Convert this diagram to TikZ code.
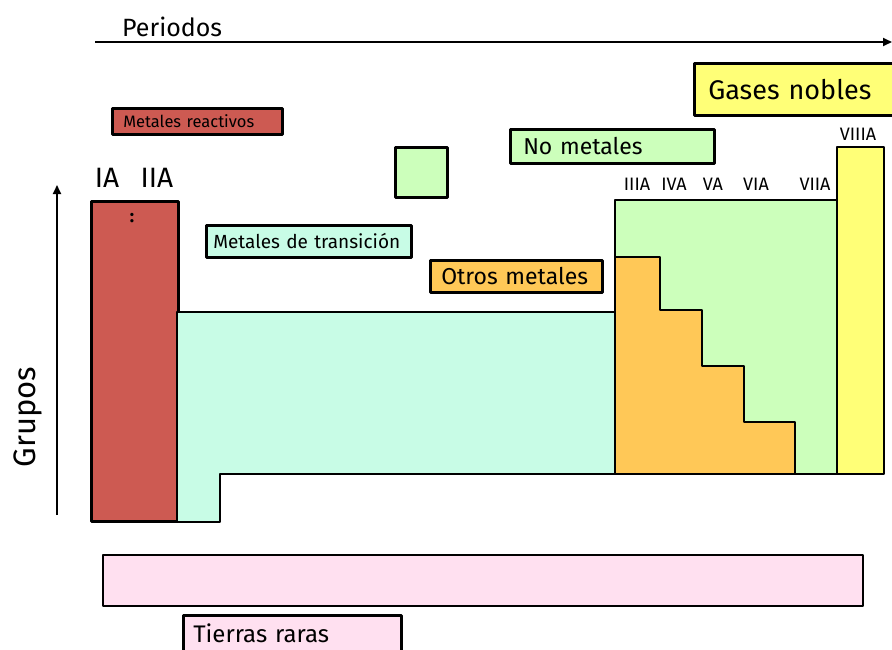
\documentclass[tikz,border=0pt]{standalone}
\usepackage{fontspec}
\setmainfont{Fira Sans}
\usetikzlibrary{arrows.meta}
\definecolor{reactred}{RGB}{205,90,82}
\definecolor{transcyan}{RGB}{200,252,230}
\definecolor{nonmetal}{RGB}{204,255,187}
\definecolor{othermetal}{RGB}{255,200,87}
\definecolor{noblegas}{RGB}{255,255,119}
\definecolor{rareearth}{RGB}{255,224,240}
\begin{document}
\begin{tikzpicture}[x=1pt,y=-1pt,
  outline/.style={draw=black, line width=2.5pt, line join=round},
  keybox/.style={outline, rectangle, inner ysep=0pt, align=left, anchor=north west},
  grouplabel/.style={font=\fontsize{18}{18}\selectfont, inner sep=0pt},
  axis/.style={line width=1.8pt, -{Triangle[length=9pt,width=8pt]}}]
\useasboundingbox (0,0) rectangle (892,649);
\clip (0,0) rectangle (892,649);

% axes
\coordinate (pstart) at (95,42);
\coordinate (pend) at (892,42);
\draw[axis] (pstart) -- (pend);
\node[font=\fontsize{25}{25}\selectfont, anchor=west, inner sep=0pt] (periodos) at (122,27) {Periodos};

\coordinate (gstart) at (57,515);
\coordinate (gend) at (57,185);
\draw[axis] (gstart) -- (gend);
\node[font=\fontsize{31}{31}\selectfont, rotate=90, inner sep=0pt] (grupos) at (28,417) {Grupos};

% reactive metals column
\node[outline, fill=reactred, minimum width=87pt, minimum height=320pt, anchor=north west, inner sep=0pt] (reactcol) at (90,200) {};
\node[font=\bfseries\fontsize{18}{18}\selectfont, inner sep=0pt] (dots) at (132,218) {:};
\node[grouplabel, font=\fontsize{28}{28}\selectfont] (ia) at (107,178) {IA};
\node[grouplabel, font=\fontsize{28}{28}\selectfont] (iia) at (157,178) {IIA};

% transition metals
\draw[outline, fill=transcyan] (177,312) -- (615,312) -- (615,474) -- (220,474) -- (220,522) -- (177,522) -- cycle;

% non metals block
\draw[outline, fill=nonmetal] (615,200) rectangle (837,474);
% other metals staircase
\draw[outline, fill=othermetal] (615,257) -- (660,257) -- (660,310) -- (702,310) -- (702,366) -- (744,366) -- (744,422) -- (795,422) -- (795,474) -- (615,474) -- cycle;
% noble gases column
\draw[outline, fill=noblegas] (837,147) rectangle (884,474);

% group labels
\node[grouplabel] (iiia) at (637,184) {IIIA};
\node[grouplabel] (iva) at (674,184) {IVA};
\node[grouplabel] (va) at (713,184) {VA};
\node[grouplabel] (via) at (756,184) {VIA};
\node[grouplabel] (viia) at (815,184) {VIIA};
\node[grouplabel] (viiia) at (858,134) {VIIIA};

% rare earths bar
\draw[outline, fill=rareearth] (103,555) rectangle (863,606);

% legend keys
\node[keybox, fill=reactred, inner xsep=11pt, text width=148pt, minimum height=26pt, font=\fontsize{16.5}{16.5}\selectfont] (kreact) at (111,107) {Metales\ reactivos};
\node[outline, fill=nonmetal, minimum width=52pt, minimum height=50pt, anchor=north west, inner sep=0pt] (ksquare) at (394,146) {};
\node[keybox, fill=nonmetal, inner xsep=13pt, text width=178pt, minimum height=34pt, font=\fontsize{23}{23}\selectfont] (knon) at (509,128) {No metales};
\node[keybox, fill=noblegas, inner xsep=14pt, text width=182pt, minimum height=52pt, font=\fontsize{27}{27}\selectfont] (knoble) at (693,62) {Gases nobles};
\node[keybox, fill=transcyan, inner xsep=7pt, text width=191pt, minimum height=32pt, font=\fontsize{19}{19}\selectfont] (ktrans) at (205,224) {Metales de transición};
\node[keybox, fill=othermetal, inner xsep=11pt, text width=150pt, minimum height=32pt, font=\fontsize{23}{23}\selectfont] (kother) at (429,259) {Otros metales};
\node[keybox, fill=rareearth, inner xsep=10pt, text width=198pt, minimum height=44pt, font=\fontsize{24}{24}\selectfont] (krare) at (182,614) {\raisebox{9pt}{Tierras raras}};
\end{tikzpicture}
\end{document}
